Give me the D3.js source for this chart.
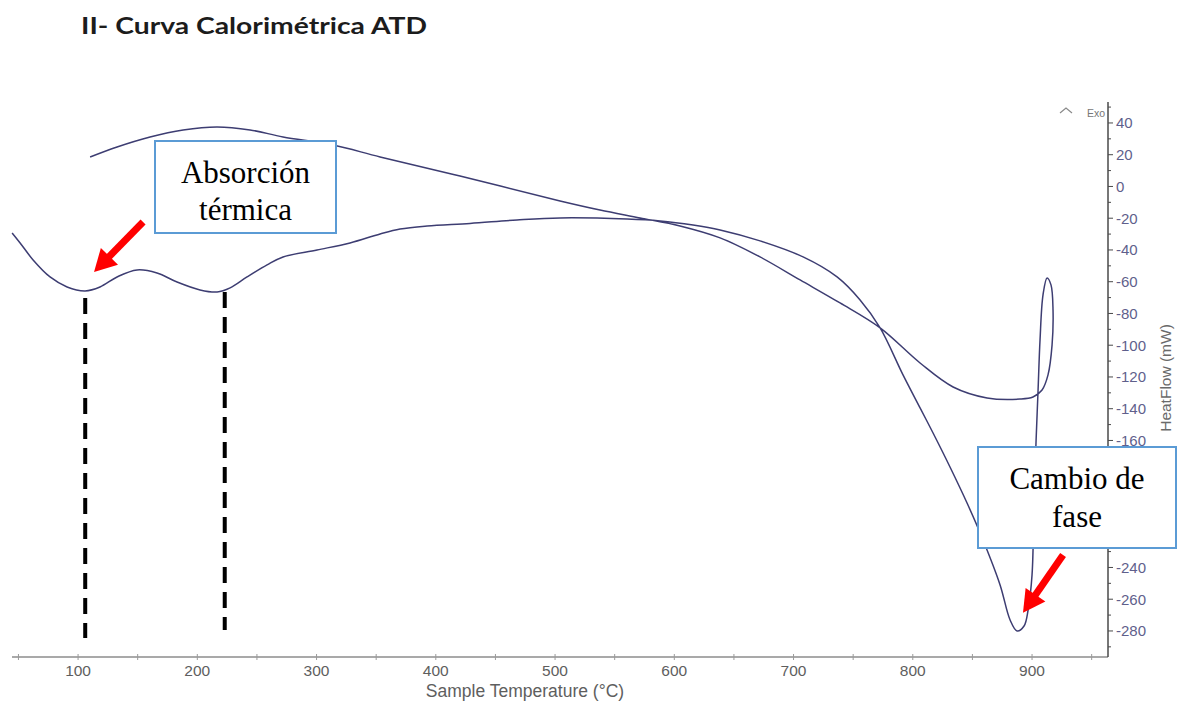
<!DOCTYPE html>
<html>
<head>
<meta charset="utf-8">
<script src="https://cdn.jsdelivr.net/npm/d3@7"></script>
<style>
  body { margin: 0; background: #ffffff; }
  svg { display: block; }
</style>
</head>
<body>
<svg id="chart" width="1181" height="703"></svg>
<script>
// Heating run: sample temperature (°C) against heat flow (mW), up to the top of the loop
const heatingTemp = [44.7, 51.4, 62.3, 76.5, 90.8, 105.9, 118.4, 132.7, 149.5, 166.2, 183.0, 202.3,
  216.6, 227.5, 241.7, 258.5, 271.9, 300.4, 328.1, 353.3, 370.0, 392.7, 428.7, 468.1, 504.2, 560.4,
  588.1, 615.7, 638.4, 671.9, 708.0, 736.5, 755.8, 772.6, 791.8, 806.1, 817.0, 831.2, 845.5, 858.9,
  873.2, 881.6, 887.4, 893.3, 896.7, 900.0, 901.7, 903.4, 905.0, 906.7, 909.2, 912.6];
const heatingFlow = [-29.3, -35.6, -46.3, -57.0, -63.3, -65.8, -63.3, -57.0, -52.6, -54.5, -60.2, -65.2,
  -66.5, -63.9, -57.0, -49.4, -44.4, -40.0, -35.6, -29.9, -26.8, -24.9, -23.3, -21.1, -19.8, -20.5,
  -21.7, -24.3, -27.4, -34.3, -44.4, -57.0, -71.5, -89.1, -118.7, -139.5, -155.3, -176.7, -199.4, -222.7,
  -251.0, -273.1, -280.0, -276.9, -266.8, -244.7, -197.5, -159.7, -129.5, -96.7, -68.3, -57.6];

// Cooling run: from the top of the loop back down to 110 °C
const coolingTemp = [915.9, 917.6, 916.8, 913.4, 908.4, 900.8, 889.9, 862.3, 833.8, 806.1, 772.6,
  739.0, 705.5, 671.9, 638.4, 604.8, 571.3, 537.7, 504.2, 420.3, 353.3, 313.8, 271.9, 244.2, 216.6,
  188.1, 160.4, 132.7, 110.1];
const coolingFlow = [-62.0, -77.8, -99.8, -118.7, -128.2, -132.6, -133.9, -133.2, -126.3, -111.2, -89.1,
  -73.4, -58.9, -44.4, -32.4, -24.9, -19.8, -14.8, -9.1, 6.6, 18.6, 26.1, 31.2, 35.6, 37.5,
  35.6, 31.2, 24.9, 18.6];

// Axis ticks
const xTicks = [100, 200, 300, 400, 500, 600, 700, 800, 900];
const xMinorTicks = [50, 150, 250, 350, 450, 550, 650, 750, 850, 950];
const yTicks = [40, 20, 0, -20, -40, -60, -80, -100, -120, -140, -160, -180, -200, -220, -240, -260, -280];
const yMinorTicks = [50, 30, 10, -10, -30, -50, -70, -90, -110, -130, -150, -170, -190, -210, -230, -250, -270, -290];

// Temperatures of the two endothermic dips marked with dashed guides
const markedDips = [106, 223];

const svg = d3.select("#chart");

const x = d3.scaleLinear().domain([44.6, 963.7]).range([12, 1108]);
const y = d3.scaleLinear().domain([53.2, -296.4]).range([102, 657]);

const axisY0 = 657;   // baseline of the temperature axis
const axisX0 = 1108;  // position of the heat-flow axis

// Callout boxes: x, y, width, height
const boxAbs = [155, 141, 181, 92];
const boxFase = [978, 447, 198, 101];

// Title
svg.append("text")
  .attr("x", 81).attr("y", 34)
  .attr("font-family", "Lato, 'Open Sans', sans-serif")
  .attr("font-weight", 700)
  .attr("font-size", 23)
  .attr("textLength", 346)
  .attr("lengthAdjust", "spacingAndGlyphs")
  .attr("fill", "#1c1c1c")
  .text("II- Curva Calorimétrica ATD");

// Temperature axis (bottom)
const gx = svg.append("g");
gx.append("line")
  .attr("x1", x.range()[0]).attr("x2", x.range()[1])
  .attr("y1", axisY0).attr("y2", axisY0)
  .attr("stroke", "#a9a9a9").attr("stroke-width", 2);
gx.selectAll("line.tick")
  .data(xTicks.concat(xMinorTicks))
  .join("line")
  .attr("class", "tick")
  .attr("x1", d => x(d)).attr("x2", d => x(d))
  .attr("y1", axisY0 - 3).attr("y2", axisY0 + 3)
  .attr("stroke", "#9a9a9a").attr("stroke-width", 1);
gx.selectAll("text.tl")
  .data(xTicks)
  .join("text")
  .attr("class", "tl")
  .attr("x", d => x(d)).attr("y", axisY0 + 19)
  .attr("text-anchor", "middle")
  .attr("font-family", "'Liberation Sans', Arial, sans-serif")
  .attr("font-size", 15.5)
  .attr("fill", "#5e5e5e")
  .text(d => String(d));
svg.append("text")
  .attr("x", 525).attr("y", 697)
  .attr("text-anchor", "middle")
  .attr("font-family", "'Liberation Sans', Arial, sans-serif")
  .attr("font-size", 17.5)
  .attr("fill", "#5e5e5e")
  .text("Sample Temperature (°C)");

// Heat-flow axis (right)
const gy = svg.append("g");
gy.append("line")
  .attr("x1", axisX0).attr("x2", axisX0)
  .attr("y1", y.range()[0]).attr("y2", y.range()[1])
  .attr("stroke", "#4a4a4a").attr("stroke-width", 1.5);
gy.selectAll("line.major")
  .data(yTicks)
  .join("line")
  .attr("class", "major")
  .attr("x1", axisX0).attr("x2", axisX0 + 5)
  .attr("y1", d => y(d)).attr("y2", d => y(d))
  .attr("stroke", "#4a4a4a").attr("stroke-width", 1);
gy.selectAll("line.minor")
  .data(yMinorTicks)
  .join("line")
  .attr("class", "minor")
  .attr("x1", axisX0).attr("x2", axisX0 + 3)
  .attr("y1", d => y(d)).attr("y2", d => y(d))
  .attr("stroke", "#4a4a4a").attr("stroke-width", 1);
// labels that would sit completely under the phase-change callout are left out
const labelHidden = d => y(d) - 6 > boxFase[1] && y(d) + 6 < boxFase[1] + boxFase[3];
gy.selectAll("text.tl")
  .data(yTicks.filter(d => !labelHidden(d)))
  .join("text")
  .attr("class", "tl")
  .attr("x", axisX0 + 8).attr("y", d => y(d))
  .attr("dy", "0.36em")
  .attr("font-family", "'Liberation Sans', Arial, sans-serif")
  .attr("font-size", 15)
  .attr("fill", "#5f5f8c")
  .text(d => String(d));
svg.append("text")
  .attr("transform", "translate(1171,378) rotate(-90)")
  .attr("text-anchor", "middle")
  .attr("font-family", "'Liberation Sans', Arial, sans-serif")
  .attr("font-size", 15.5)
  .attr("fill", "#6a6a6a")
  .text("HeatFlow (mW)");

// Exothermic direction marker
svg.append("polyline")
  .attr("points", "1060,113 1066,108 1072,113")
  .attr("fill", "none").attr("stroke", "#8a8a8a").attr("stroke-width", 1.2);
svg.append("text")
  .attr("x", 1087).attr("y", 117)
  .attr("font-family", "'Liberation Sans', Arial, sans-serif")
  .attr("font-size", 10.5)
  .attr("fill", "#777")
  .text("Exo");

// DTA curve: heating then cooling, one continuous trace
const temps = heatingTemp.concat(coolingTemp);
const flows = heatingFlow.concat(coolingFlow);
const pts = d3.zip(temps, flows);
const line = d3.line()
  .x(d => x(d[0]))
  .y(d => y(d[1]))
  .curve(d3.curveCatmullRom.alpha(0.5));
svg.append("path")
  .datum(pts)
  .attr("d", line)
  .attr("fill", "none")
  .attr("stroke", "#3d3d72")
  .attr("stroke-width", 1.5)
  .attr("stroke-linejoin", "round");

// Dashed guides under the two dips
svg.selectAll("line.guide")
  .data(markedDips)
  .join("line")
  .attr("class", "guide")
  .attr("x1", d => x(d)).attr("x2", d => x(d))
  .attr("y1", (d, i) => i === 0 ? 298 : 292)
  .attr("y2", (d, i) => i === 0 ? 638 : 630)
  .attr("stroke", "#000").attr("stroke-width", 4)
  .attr("stroke-dasharray", "16,9");

// Red arrows pointing at the features (tail and tip in data units)
function arrow(tail, tip) {
  const x0 = x(tail[0]), y0 = y(tail[1]);
  const x1 = x(tip[0]), y1 = y(tip[1]);
  const dx = x1 - x0, dy = y1 - y0;
  const len = Math.hypot(dx, dy);
  const ux = dx / len, uy = dy / len;
  const headLen = 22, headHalf = 12;
  const bx = x1 - ux * headLen, by = y1 - uy * headLen;
  svg.append("line")
    .attr("x1", x0).attr("y1", y0)
    .attr("x2", bx + ux * 2).attr("y2", by + uy * 2)
    .attr("stroke", "#ff0000").attr("stroke-width", 7);
  svg.append("polygon")
    .attr("points", [
      [x1, y1],
      [bx - uy * headHalf, by + ux * headHalf],
      [bx + uy * headHalf, by - ux * headHalf]
    ].map(p => p.join(",")).join(" "))
    .attr("fill", "#ff0000");
}
arrow([154.5, -22.4], [113.4, -53.9]);
arrow([926.0, -232.1], [892.4, -268.6]);

// Callout boxes
function callout(box, lines, baselines) {
  const [bx, by, bw, bh] = box;
  svg.append("rect")
    .attr("x", bx).attr("y", by).attr("width", bw).attr("height", bh)
    .attr("fill", "#ffffff")
    .attr("stroke", "#5b9bd5").attr("stroke-width", 2);
  lines.forEach((t, i) => {
    svg.append("text")
      .attr("x", bx + bw / 2).attr("y", baselines[i])
      .attr("text-anchor", "middle")
      .attr("font-family", "'Liberation Serif', 'Times New Roman', serif")
      .attr("font-size", 31)
      .attr("fill", "#000")
      .text(t);
  });
}
callout(boxAbs, ["Absorción", "térmica"], [183, 220]);
callout(boxFase, ["Cambio de", "fase"], [489, 527]);
</script>
</body>
</html>
